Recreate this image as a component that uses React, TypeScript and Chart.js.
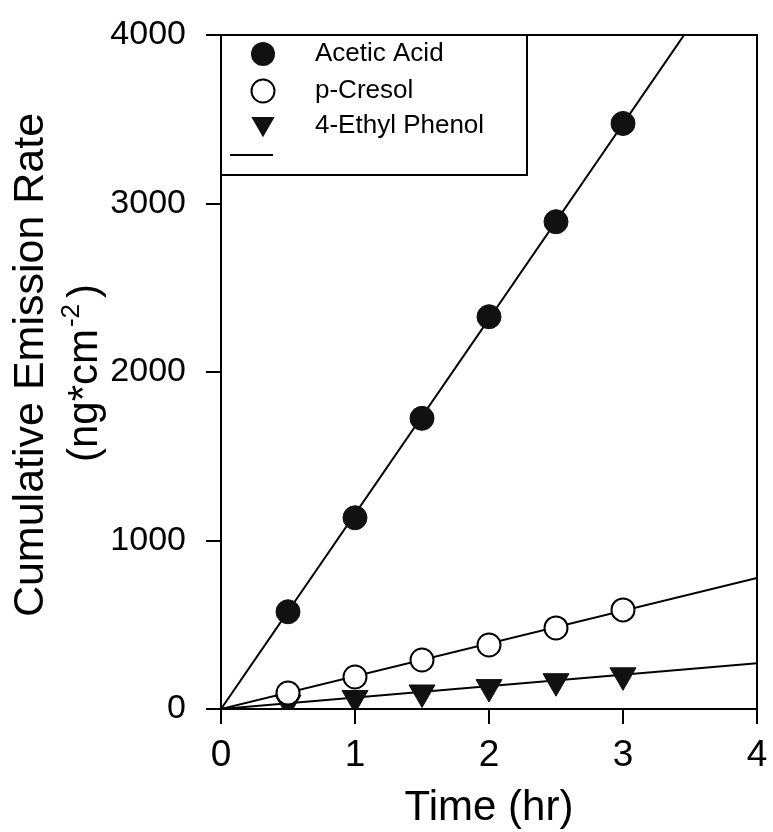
import React, { useEffect, useRef } from "react";
import { Chart, registerables } from "chart.js";

Chart.register(...registerables);

// ---- data ----
const timeHr = [0.5, 1, 1.5, 2, 2.5, 3];
const aceticAcid = [577, 1135, 1725, 2328, 2892, 3475];
const pCresol = [95, 190, 291, 380, 481, 588];
const ethylPhenol = [38, 65, 98, 130, 165, 200];

const fitTime = [0, 4];
const aceticFit = [0, 4630];
const pCresolFit = [0, 778];
const ethylPhenolFit = [0, 272];

const xTickValues = [0, 1, 2, 3, 4];
const yTickValues = [0, 1000, 2000, 3000, 4000];
const legendLabels = ["Acetic Acid", "p-Cresol", "4-Ethyl Phenol", ""];

const xTitle = "Time (hr)";
const yTitleLine1 = "Cumulative Emission Rate";
const yTitleLine2a = "(ng*cm";
const yTitleSup = "-2";
const yTitleLine2b = ")";

const FONT = "'Liberation Sans', Arial, Helvetica, sans-serif";

const toPoints = (xs: number[], ys: number[]) => xs.map((x, i) => ({ x, y: ys[i] }));

function drawMarker(ctx: CanvasRenderingContext2D, kind: number, x: number, y: number) {
  ctx.save();
  ctx.lineWidth = 2;
  ctx.strokeStyle = "#000";
  if (kind === 0) {
    ctx.fillStyle = "#111";
    ctx.beginPath();
    ctx.arc(x, y, 12, 0, Math.PI * 2);
    ctx.fill();
  } else if (kind === 1) {
    ctx.fillStyle = "#fff";
    ctx.beginPath();
    ctx.arc(x, y, 11.5, 0, Math.PI * 2);
    ctx.fill();
    ctx.stroke();
  } else if (kind === 2) {
    const r = 15;
    ctx.fillStyle = "#111";
    ctx.beginPath();
    ctx.moveTo(x, y + r * 0.75);
    ctx.lineTo(x - r * 0.78, y - r * 0.6);
    ctx.lineTo(x + r * 0.78, y - r * 0.6);
    ctx.closePath();
    ctx.fill();
  } else {
    ctx.lineWidth = 2;
    ctx.beginPath();
    ctx.moveTo(x - 33, y);
    ctx.lineTo(x + 10, y);
    ctx.stroke();
  }
  ctx.restore();
}

const framePlugin = {
  id: "frameAndDecor",
  afterDatasetsDraw(chart: any) {
    const { ctx, chartArea } = chart;
    const { left, right, top, bottom } = chartArea;
    ctx.save();
    // top and right border of the frame
    ctx.strokeStyle = "#000";
    ctx.lineWidth = 2;
    ctx.beginPath();
    ctx.moveTo(left, top);
    ctx.lineTo(right, top);
    ctx.lineTo(right, bottom);
    ctx.stroke();

    // legend box
    const bx = left;
    const by = top;
    const bw = 306;
    const bh = 140;
    ctx.fillStyle = "#fff";
    ctx.fillRect(bx, by, bw, bh);
    ctx.strokeRect(bx, by, bw, bh);
    const rowsY = [by + 19, by + 56, by + 91, by + 120];
    ctx.font = `26px ${FONT}`;
    ctx.fillStyle = "#000";
    ctx.textAlign = "left";
    ctx.textBaseline = "middle";
    legendLabels.forEach((lbl, i) => {
      drawMarker(ctx, i, bx + 42, rowsY[i]);
      if (lbl) ctx.fillText(lbl, bx + 94, rowsY[i]);
    });

    // x-axis title
    ctx.font = `42px ${FONT}`;
    ctx.textAlign = "center";
    ctx.textBaseline = "alphabetic";
    ctx.fillText(xTitle, (left + right) / 2, 820);

    // y-axis title (two lines, rotated)
    ctx.save();
    ctx.translate(43, 365);
    ctx.rotate(-Math.PI / 2);
    ctx.font = `43px ${FONT}`;
    ctx.textAlign = "center";
    ctx.fillText(yTitleLine1, 0, 0);
    ctx.restore();

    ctx.save();
    ctx.translate(97, 373);
    ctx.rotate(-Math.PI / 2);
    ctx.textAlign = "left";
    ctx.font = `42px ${FONT}`;
    const wa = ctx.measureText(yTitleLine2a).width;
    const wb = ctx.measureText(yTitleLine2b).width;
    ctx.font = `26px ${FONT}`;
    const ws = ctx.measureText(yTitleSup).width;
    const gapA = 2;
    const gapB = 6;
    const total = wa + gapA + ws + gapB + wb;
    let x0 = -total / 2;
    ctx.font = `42px ${FONT}`;
    ctx.fillText(yTitleLine2a, x0, 0);
    x0 += wa + gapA;
    ctx.font = `26px ${FONT}`;
    ctx.fillText(yTitleSup, x0, -18);
    x0 += ws + gapB;
    ctx.font = `42px ${FONT}`;
    ctx.fillText(yTitleLine2b, x0, 0);
    ctx.restore();

    ctx.restore();
  },
};

export default function App() {
  const ref = useRef<HTMLCanvasElement | null>(null);

  useEffect(() => {
    if (!ref.current) return;
    const chart = new Chart(ref.current, {
      type: "scatter",
      data: {
        datasets: [
          {
            label: legendLabels[0],
            data: toPoints(timeHr, aceticAcid),
            pointStyle: "circle",
            pointRadius: 12,
            pointBackgroundColor: "#111",
            pointBorderColor: "#111",
            pointBorderWidth: 1,
            showLine: false,
            order: 0,
          },
          {
            label: legendLabels[1],
            data: toPoints(timeHr, pCresol),
            pointStyle: "circle",
            pointRadius: 11.5,
            pointBackgroundColor: "#fff",
            pointBorderColor: "#000",
            pointBorderWidth: 2,
            showLine: false,
            order: 0,
          },
          {
            label: legendLabels[2],
            data: toPoints(timeHr, ethylPhenol),
            pointStyle: "triangle",
            rotation: 180,
            pointRadius: 15,
            pointBackgroundColor: "#111",
            pointBorderColor: "#111",
            pointBorderWidth: 1,
            showLine: false,
            order: 0,
          },
          {
            type: "line",
            label: "fit acetic",
            data: toPoints(fitTime, aceticFit),
            borderColor: "#000",
            borderWidth: 2,
            pointRadius: 0,
            order: 5,
          },
          {
            type: "line",
            label: "fit cresol",
            data: toPoints(fitTime, pCresolFit),
            borderColor: "#000",
            borderWidth: 2,
            pointRadius: 0,
            order: 5,
          },
          {
            type: "line",
            label: "fit ethyl",
            data: toPoints(fitTime, ethylPhenolFit),
            borderColor: "#000",
            borderWidth: 2,
            pointRadius: 0,
            order: 5,
          },
        ] as any,
      },
      options: {
        responsive: false,
        animation: false,
        devicePixelRatio: 1,
        layout: { padding: { left: 0, top: 35, right: 12, bottom: 0 } },
        plugins: {
          legend: { display: false },
          tooltip: { enabled: false },
          title: { display: false },
        },
        scales: {
          x: {
            type: "linear",
            min: 0,
            max: 4,
            afterBuildTicks: (scale: any) => {
              scale.ticks = xTickValues.map((v) => ({ value: v }));
            },
            afterFit: (scale: any) => {
              scale.height = 123;
              scale.paddingLeft = 0;
              scale.paddingRight = 0;
            },
            ticks: {
              color: "#000",
              font: { family: FONT, size: 37 },
              padding: 10,
              maxRotation: 0,
              callback: (v: any) => String(v),
            },
            grid: {
              drawOnChartArea: false,
              drawTicks: true,
              tickLength: 15,
              color: "#000",
              lineWidth: 2,
            },
            border: { display: true, color: "#000", width: 2 },
          },
          y: {
            type: "linear",
            min: 0,
            max: 4000,
            afterBuildTicks: (scale: any) => {
              scale.ticks = yTickValues.map((v) => ({ value: v }));
            },
            afterFit: (scale: any) => {
              scale.width = 221;
              scale.paddingTop = 0;
              scale.paddingBottom = 0;
            },
            ticks: {
              color: "#000",
              font: { family: FONT, size: 34 },
              padding: 20,
              callback: (v: any) => String(v),
            },
            grid: {
              drawOnChartArea: false,
              drawTicks: true,
              tickLength: 15,
              color: "#000",
              lineWidth: 2,
            },
            border: { display: true, color: "#000", width: 2 },
          },
        },
      },
      plugins: [framePlugin],
    });
    return () => chart.destroy();
  }, []);

  return (
    <div style={{ position: "absolute", left: 0, top: 0, width: 773, height: 832, background: "#fff" }}>
      <canvas ref={ref} width={773} height={832} style={{ display: "block", width: 773, height: 832 }} />
    </div>
  );
}
